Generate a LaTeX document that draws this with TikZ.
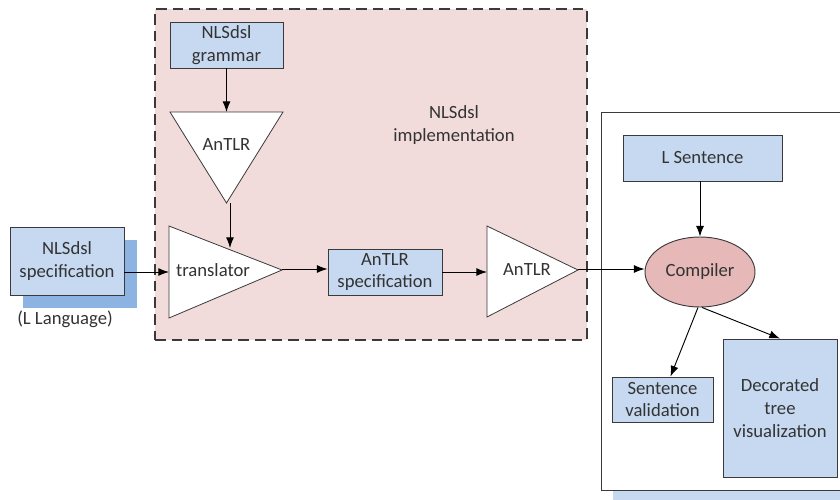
\documentclass[tikz,border=0pt]{standalone}
\usepackage{fontspec}
\setmainfont{Carlito}
\usetikzlibrary{arrows.meta,calc,shapes.geometric}
\definecolor{boxblue}{HTML}{C6D9F1}
\definecolor{shadowblue}{HTML}{8DB3E2}
\definecolor{implpink}{HTML}{F2DCDB}
\definecolor{comppink}{HTML}{E6B9B8}
\definecolor{edge}{HTML}{3A3A3A}
\definecolor{ink}{HTML}{333333}
\tikzset{
  every node/.style={font=\fontsize{14pt}{17pt}\selectfont, text=ink, align=center},
  box/.style={draw=edge, line width=0.7pt, fill=boxblue, inner sep=1pt},
  shade/.style={fill=shadowblue, inner sep=0pt},
  tri/.style={draw=edge, line width=0.6pt, fill=white},
  conn/.style={draw=black, line width=0.7pt, -{Latex[length=8pt,width=6pt]}}
}
\begin{document}
\begin{tikzpicture}[x=0.75pt,y=-0.75pt]
\clip (0,0) rectangle (840,500);
\useasboundingbox (0,0) rectangle (840,500);

% implementation region
\node[draw=edge, line width=0.8pt, dash pattern=on 8pt off 4.5pt, fill=implpink,
      minimum width=324pt, minimum height=248.25pt, inner sep=0pt] (impl) at (371,174.5) {};
\node (impllabel) at (454,125) {NLSdsl\\implementation};

% compiler region with its shadow
\fill[boxblue] (613,124) rectangle (860,510);
\node[draw=edge, line width=0.7pt, fill=white, minimum width=195pt, minimum height=283.5pt,
      inner sep=0pt] (usebox) at (731,301) {};

% language specification with shadow
\node[shade, minimum width=85.5pt, minimum height=51pt] (specshade) at (80,273.5) {};
\node[box, minimum width=85.5pt, minimum height=51pt] (spec) at (67,261) {NLSdsl\\specification};
\node (lang) at (65,319) {(L Language)};

% grammar and generator
\node[box, minimum width=84.75pt, minimum height=34.5pt] (grammar) at (226.5,45) {NLSdsl\\grammar};
\path[tri] (170,112) -- (283,112) -- (226.5,203) -- cycle;
\node (antlrA) at (226.5,145) {AnTLR};
\coordinate (antlrAtop) at (226.5,112);
\coordinate (antlrAout) at (230,203);

% translator
\path[tri] (169,226) -- (169,318) -- (282,270) -- cycle;
\node (translator) at (213,270) {translator};
\coordinate (trin) at (169,272);
\coordinate (trtop) at (230,248);
\coordinate (trtip) at (282,269);

% AnTLR specification and second generator
\node[box, minimum width=85.5pt, minimum height=34.5pt] (antlrspec) at (385,272) {AnTLR\\specification};
\path[tri] (487,226) -- (487,317) -- (578,270) -- cycle;
\node (antlrB) at (527,270) {AnTLR};
\coordinate (antlrBin) at (487,272);
\coordinate (antlrBtip) at (578,269);

% compiler side
\node[box, minimum width=119.25pt, minimum height=34.5pt] (lsent) at (702.5,158) {L Sentence};
\node[draw=edge, line width=0.7pt, fill=comppink, ellipse, minimum width=82.5pt,
      minimum height=52.5pt, inner sep=0pt] (compiler) at (700,272) {Compiler};
\node[box, minimum width=75.75pt, minimum height=33.75pt] (sval) at (662.5,399.5) {Sentence\\validation};
\node[box, minimum width=85.5pt, minimum height=103.5pt] (dtree) at (780,408) {Decorated\\tree\\visualization};

% connectors
\draw[conn] (spec.east |- trin) -- (trin);
\draw[conn] (grammar.south) -- (antlrAtop);
\draw[conn] (antlrAout) -- (trtop);
\draw[conn] (trtip) -- (trtip -| antlrspec.west);
\draw[conn] (antlrspec.east |- antlrBin) -- (antlrBin);
\draw[conn] (antlrBtip) -- (antlrBtip -| compiler.west);
\draw[conn] (lsent.south -| compiler.north) -- (compiler.north);
\draw[conn] ($(compiler.south)+(-2,0)$) -- ($(sval.north)+(8,0)$);
\draw[conn] ($(compiler.south)+(2,0)$) -- (dtree.north);
\end{tikzpicture}
\end{document}
